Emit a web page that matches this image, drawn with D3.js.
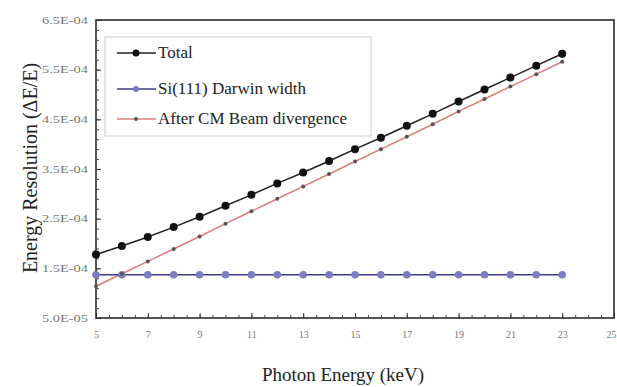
<!DOCTYPE html>
<html><head><meta charset="utf-8">
<script src="https://cdn.jsdelivr.net/npm/d3@7"></script>
<style>body{margin:0;background:#fff}svg{display:block}</style>
</head><body>
<script>
const energy = [5,6,7,8,9,10,11,12,13,14,15,16,17,18,19,20,21,22,23];
const total = [1.78e-4,1.95e-4,2.13e-4,2.33e-4,2.54e-4,2.76e-4,2.98e-4,3.21e-4,3.43e-4,3.66e-4,3.90e-4,4.13e-4,4.37e-4,4.61e-4,4.86e-4,5.10e-4,5.34e-4,5.58e-4,5.82e-4];
const darwin = [1.37e-4,1.37e-4,1.37e-4,1.37e-4,1.37e-4,1.37e-4,1.37e-4,1.37e-4,1.37e-4,1.37e-4,1.37e-4,1.37e-4,1.37e-4,1.37e-4,1.37e-4,1.37e-4,1.37e-4,1.37e-4,1.37e-4];
const divergence = [1.14e-4,1.39e-4,1.64e-4,1.89e-4,2.14e-4,2.40e-4,2.65e-4,2.90e-4,3.15e-4,3.40e-4,3.65e-4,3.90e-4,4.15e-4,4.40e-4,4.66e-4,4.91e-4,5.16e-4,5.41e-4,5.66e-4];
const xTicks = [5,7,9,11,13,15,17,19,21,23,25];
const yTicks = [0.5e-4,1.5e-4,2.5e-4,3.5e-4,4.5e-4,5.5e-4,6.5e-4];
const yTickLabels = ["5.0E-05","1.5E-04","2.5E-04","3.5E-04","4.5E-04","5.5E-04","6.5E-04"];
const seriesNames = ["Total","Si(111) Darwin width","After CM Beam divergence"];

const W=617,H=387;
const m={l:96,r:3,t:20,b:69};
const svg=d3.select("body").append("svg").attr("width",W).attr("height",H);
const x=d3.scaleLinear().domain([5,25]).range([m.l,W-m.r]);
const y=d3.scaleLinear().domain([0.5e-4,6.5e-4]).range([H-m.b,m.t]);
const serif="'Liberation Serif','DejaVu Serif',serif";

// frame
svg.append("rect").attr("x",m.l).attr("y",m.t).attr("width",W-m.r-m.l).attr("height",H-m.b-m.t)
  .attr("fill","none").attr("stroke","#444").attr("stroke-width",1.8);

// minor ticks
const gx=svg.append("g").attr("transform",`translate(0,${H-m.b})`)
  .call(d3.axisBottom(x).tickValues(d3.range(5,25.01,0.5)).tickSize(-3).tickFormat(""));
const gy=svg.append("g").attr("transform",`translate(${m.l},0)`)
  .call(d3.axisLeft(y).tickValues(d3.range(0.5e-4,6.51e-4,0.2e-4)).tickSize(-3).tickFormat(""));
[gx,gy].forEach(g=>{g.select(".domain").remove();g.selectAll("line").attr("stroke","#444");});

// major axes
const ax=svg.append("g").attr("transform",`translate(0,${H-m.b})`)
  .call(d3.axisBottom(x).tickValues(xTicks).tickSize(-5).tickPadding(13).tickFormat(d3.format("d")));
const ay=svg.append("g").attr("transform",`translate(${m.l},0)`)
  .call(d3.axisLeft(y).tickValues(yTicks).tickSize(-5).tickPadding(8).tickFormat((d,i)=>yTickLabels[i]));
[ax,ay].forEach(g=>{g.select(".domain").remove();g.selectAll("line").attr("stroke","#333");
  g.selectAll("text").attr("fill","#777").attr("font-family",serif).attr("font-size",10);});
ay.selectAll("text").attr("textLength",46).attr("lengthAdjust","spacingAndGlyphs");
ax.selectAll("text").filter(d=>d===25).attr("text-anchor","end").attr("dx",2);

// lines
const mk=(vals)=>d3.line().x((d,i)=>x(energy[i])).y(d=>y(d))(vals);
svg.append("path").attr("d",mk(divergence)).attr("fill","none").attr("stroke","#e07a7a").attr("stroke-width",1.5);
svg.append("path").attr("d",mk(darwin)).attr("fill","none").attr("stroke","#3b3b8a").attr("stroke-width",1.5);
svg.append("path").attr("d",mk(total)).attr("fill","none").attr("stroke","#222").attr("stroke-width",1.5);

svg.append("g").selectAll("circle").data(darwin).join("circle")
  .attr("cx",(d,i)=>x(energy[i])).attr("cy",d=>y(d)).attr("r",3.8).attr("fill","#7c7cc0");
svg.append("g").selectAll("circle").data(divergence).join("circle")
  .attr("cx",(d,i)=>x(energy[i])).attr("cy",d=>y(d)).attr("r",2).attr("fill","#555");
svg.append("g").selectAll("circle").data(total).join("circle")
  .attr("cx",(d,i)=>x(energy[i])).attr("cy",d=>y(d)).attr("r",4).attr("fill","#111");

// legend
const lg=svg.append("g");
lg.append("rect").attr("x",105).attr("y",37).attr("width",266).attr("height",99)
  .attr("fill","#fff").attr("stroke","#ccc").attr("stroke-width",1);
const legStyles=[{c:"#222",mc:"#111",r:3.5},{c:"#3b3b8a",mc:"#7c7cc0",r:3},{c:"#e07a7a",mc:"#555",r:2}];
const legY=[53,89,119];
seriesNames.forEach((n,i)=>{
  lg.append("line").attr("x1",117).attr("x2",156).attr("y1",legY[i]).attr("y2",legY[i])
    .attr("stroke",legStyles[i].c).attr("stroke-width",1.5);
  lg.append("circle").attr("cx",136).attr("cy",legY[i]).attr("r",legStyles[i].r).attr("fill",legStyles[i].mc);
  lg.append("text").attr("x",158).attr("y",legY[i]+5).text(n)
    .attr("font-family",serif).attr("font-size",17).attr("fill","#222");
});

// titles
svg.append("text").attr("x",343).attr("y",381).attr("text-anchor","middle").text("Photon Energy (keV)")
  .attr("font-family",serif).attr("font-size",19).attr("fill","#222");
svg.append("text").attr("transform","translate(37,168) rotate(-90)").attr("text-anchor","middle")
  .text("Energy Resolution (ΔE/E)").attr("font-family",serif).attr("font-size",20).attr("fill","#222");
</script>
</body></html>
